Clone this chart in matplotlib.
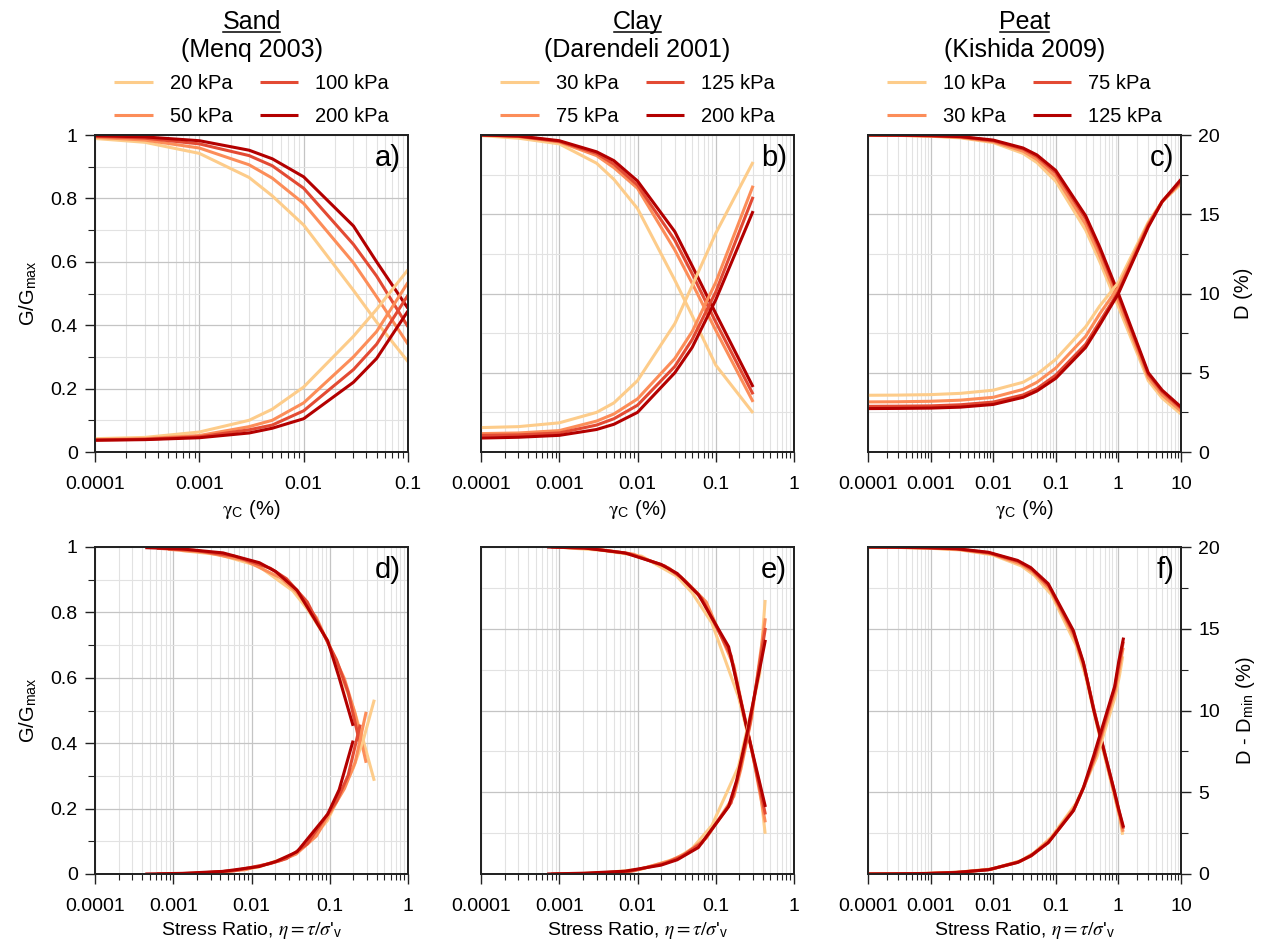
import numpy as np
import matplotlib
matplotlib.use('Agg')
import matplotlib.pyplot as plt
from matplotlib.ticker import LogLocator, MultipleLocator, NullFormatter, FuncFormatter, NullLocator
from matplotlib.lines import Line2D

plt.rcParams['font.family'] = ['Liberation Sans', 'DejaVu Sans']
plt.rcParams['mathtext.fontset'] = 'stix'

colors = ['#fdcc8a', '#fc8d59', '#e34a33', '#b30000']

# ---------------- Sand (Menq 2003) ----------------
sand_labels = ['20 kPa', '50 kPa', '100 kPa', '200 kPa']
sand_strain = [1e-4, 3e-4, 1e-3, 3e-3, 5e-3, 1e-2, 3e-2, 5e-2, 0.1]
sand_G = [
    [0.989, 0.977, 0.942, 0.866, 0.808, 0.716, 0.510, 0.410, 0.285],
    [0.993, 0.984, 0.959, 0.906, 0.864, 0.784, 0.597, 0.490, 0.340],
    [0.996, 0.990, 0.972, 0.935, 0.903, 0.832, 0.655, 0.555, 0.395],
    [0.998, 0.994, 0.982, 0.952, 0.925, 0.868, 0.713, 0.600, 0.453],
]
sand_D = [
    [0.84, 0.92, 1.26, 2.00, 2.70, 4.10, 7.30, 9.00, 11.50],
    [0.78, 0.84, 1.04, 1.60, 2.00, 3.10, 6.00, 7.60, 10.70],
    [0.76, 0.80, 0.96, 1.40, 1.70, 2.60, 5.20, 6.80, 9.90],
    [0.74, 0.78, 0.90, 1.20, 1.50, 2.10, 4.40, 5.90, 8.90],
]
sand_eta = [
    [1.29e-3, 3.81e-3, 1.225e-2, 3.38e-2, 5.25e-2, 9.31e-2, 0.199, 0.267, 0.371],
    [8.54e-4, 2.54e-3, 8.25e-3, 2.34e-2, 3.72e-2, 6.74e-2, 0.154, 0.211, 0.292],
    [6.18e-4, 1.84e-3, 6.03e-3, 1.74e-2, 2.80e-2, 5.16e-2, 0.122, 0.172, 0.245],
    [4.39e-4, 1.31e-3, 4.32e-3, 1.26e-2, 2.04e-2, 3.82e-2, 9.41e-2, 0.132, 0.199],
]
sand_Dnorm = [
    [0.00, 0.08, 0.42, 1.16, 1.86, 3.26, 6.46, 8.16, 10.66],
    [0.00, 0.06, 0.26, 0.82, 1.22, 2.32, 5.22, 6.82, 9.92],
    [0.00, 0.04, 0.20, 0.64, 0.94, 1.84, 4.44, 6.04, 9.14],
    [0.00, 0.04, 0.16, 0.46, 0.76, 1.36, 3.66, 5.16, 8.16],
]

# ---------------- Clay (Darendeli 2001) ----------------
clay_labels = ['30 kPa', '75 kPa', '125 kPa', '200 kPa']
clay_strain = [1e-4, 3e-4, 1e-3, 3e-3, 5e-3, 1e-2, 3e-2, 5e-2, 0.1, 0.3]
clay_G = [
    [0.998, 0.990, 0.972, 0.911, 0.860, 0.768, 0.542, 0.430, 0.274, 0.123],
    [1.000, 0.995, 0.978, 0.935, 0.897, 0.832, 0.637, 0.532, 0.384, 0.158],
    [1.000, 0.996, 0.980, 0.942, 0.908, 0.842, 0.668, 0.562, 0.410, 0.182],
    [1.000, 0.997, 0.982, 0.947, 0.919, 0.855, 0.695, 0.587, 0.437, 0.205],
]
clay_D = [
    [1.54, 1.60, 1.84, 2.50, 3.10, 4.50, 8.10, 10.50, 13.80, 18.30],
    [1.16, 1.20, 1.35, 1.95, 2.40, 3.35, 5.90, 7.60, 10.70, 16.80],
    [1.05, 1.08, 1.20, 1.70, 2.10, 2.95, 5.40, 7.10, 10.10, 16.10],
    [0.88, 0.93, 1.05, 1.42, 1.75, 2.50, 5.00, 6.60, 9.60, 15.20],
]
clay_eta = [
    [1.16e-3, 3.45e-3, 1.13e-2, 3.17e-2, 4.99e-2, 8.91e-2, 0.195, 0.255, 0.365, 0.428],
    [9.07e-4, 2.71e-3, 8.87e-3, 2.54e-2, 4.07e-2, 7.55e-2, 0.170, 0.210, 0.287, 0.430],
    [7.90e-4, 2.36e-3, 7.74e-3, 2.23e-2, 3.59e-2, 6.65e-2, 0.157, 0.195, 0.270, 0.431],
    [7.00e-4, 2.09e-3, 6.87e-3, 1.99e-2, 3.22e-2, 5.99e-2, 0.146, 0.185, 0.254, 0.431],
]
clay_Dnorm = [
    [0.00, 0.06, 0.30, 0.96, 1.56, 2.96, 6.56, 8.96, 12.26, 16.76],
    [0.00, 0.04, 0.19, 0.79, 1.24, 2.19, 4.74, 6.44, 9.54, 15.64],
    [0.00, 0.03, 0.15, 0.65, 1.05, 1.90, 4.35, 6.05, 9.05, 15.05],
    [0.00, 0.05, 0.17, 0.54, 0.87, 1.62, 4.12, 5.72, 8.72, 14.32],
]

# ---------------- Peat (Kishida 2009) ----------------
peat_labels = ['10 kPa', '30 kPa', '75 kPa', '125 kPa']
peat_strain = [1e-4, 3e-4, 1e-3, 3e-3, 1e-2, 3e-2, 5e-2, 0.1, 0.3, 0.5, 1, 3, 5, 10]
peat_G = [
    [0.9995, 0.9987, 0.996, 0.991, 0.976, 0.942, 0.913, 0.854, 0.700, 0.602, 0.458, 0.225, 0.170, 0.120],
    [0.9997, 0.9989, 0.9968, 0.9926, 0.979, 0.949, 0.923, 0.868, 0.718, 0.620, 0.475, 0.235, 0.180, 0.129],
    [0.9999, 0.9991, 0.9976, 0.9942, 0.982, 0.956, 0.932, 0.881, 0.736, 0.639, 0.492, 0.245, 0.190, 0.138],
    [1.0000, 0.9993, 0.998, 0.995, 0.984, 0.959, 0.937, 0.888, 0.745, 0.648, 0.500, 0.250, 0.195, 0.142],
]
peat_D = [
    [3.58, 3.59, 3.62, 3.70, 3.90, 4.40, 4.90, 5.85, 7.90, 9.20, 10.7, 14.5, 15.8, 16.9],
    [3.16, 3.17, 3.20, 3.27, 3.45, 3.95, 4.40, 5.30, 7.30, 8.70, 10.4, 14.4, 15.8, 17.0],
    [2.88, 2.89, 2.91, 2.98, 3.15, 3.60, 4.00, 4.85, 6.80, 8.20, 10.1, 14.3, 15.8, 17.1],
    [2.74, 2.75, 2.77, 2.83, 3.00, 3.45, 3.85, 4.65, 6.60, 8.00, 10.0, 14.2, 15.8, 17.2],
]
peat_eta = [
    [1.0e-4, 3.0e-4, 9.96e-4, 2.97e-3, 9.76e-3, 2.83e-2, 4.57e-2, 8.54e-2, 0.210, 0.301, 0.450, 0.900, 1.050, 1.170],
    [9.5e-5, 2.85e-4, 9.47e-4, 2.83e-3, 9.30e-3, 2.70e-2, 4.38e-2, 8.24e-2, 0.205, 0.295, 0.435, 0.890, 1.040, 1.190],
    [8.8e-5, 2.64e-4, 8.78e-4, 2.63e-3, 8.65e-3, 2.52e-2, 4.10e-2, 7.76e-2, 0.194, 0.281, 0.420, 0.880, 1.030, 1.200],
    [8.5e-5, 2.55e-4, 8.48e-4, 2.54e-3, 8.36e-3, 2.45e-2, 3.98e-2, 7.55e-2, 0.190, 0.275, 0.405, 0.870, 1.020, 1.210],
]
peat_Dnorm = [
    [0.00, 0.01, 0.04, 0.12, 0.32, 0.82, 1.32, 2.27, 4.32, 5.62, 7.12, 10.92, 12.22, 13.32],
    [0.00, 0.01, 0.04, 0.11, 0.29, 0.79, 1.24, 2.14, 4.14, 5.54, 7.24, 11.24, 12.64, 13.84],
    [0.00, 0.01, 0.03, 0.10, 0.27, 0.72, 1.12, 1.97, 3.92, 5.32, 7.22, 11.42, 12.92, 14.22],
    [0.00, 0.01, 0.03, 0.09, 0.26, 0.71, 1.11, 1.91, 3.86, 5.26, 7.26, 11.46, 13.06, 14.46],
]

titles = ['Sand', 'Clay', 'Peat']
refs = ['(Menq 2003)', '(Darendeli 2001)', '(Kishida 2009)']
top_xmax = [0.1, 1, 10]
bot_xmax = [1, 1, 10]
letters_top = ['a)', 'b)', 'c)']
letters_bot = ['d)', 'e)', 'f)']

W, H = 1262, 944
fig = plt.figure(figsize=(W / 100, H / 100), dpi=100)

lefts_px = [95, 481, 868]
width_px = 313
rows_px = [(135, 452), (547, 874)]

LW = 2.2
FS = 14
spine_color = '#222222'


def make_axes(col, row):
    top, bot = rows_px[row]
    rect = [lefts_px[col] / W, 1 - bot / H, width_px / W, (bot - top) / H]
    ax = fig.add_axes(rect)
    ax2 = ax.twinx()
    return ax, ax2


def style(ax, ax2, xmax, col, letter):
    ax.set_xscale('log')
    ax.set_xlim(1e-4, xmax)
    ax.set_ylim(0, 1)
    ax2.set_ylim(0, 20)
    ax.xaxis.set_major_locator(LogLocator(base=10, numticks=20))
    ax.xaxis.set_minor_locator(LogLocator(base=10, subs=np.arange(2, 10), numticks=20))
    ax.xaxis.set_minor_formatter(NullFormatter())
    ax.xaxis.set_major_formatter(FuncFormatter(lambda v, p: f'{v:g}'))
    ax.tick_params(axis='x', which='major', length=7, width=1.0, labelsize=FS, pad=10,
                   color=spine_color)
    ax.tick_params(axis='x', which='minor', length=4.5, width=0.8, color=spine_color)
    if col == 0:
        ax.yaxis.set_major_locator(MultipleLocator(0.2))
        ax.yaxis.set_minor_locator(MultipleLocator(0.1))
        ax.yaxis.set_major_formatter(FuncFormatter(lambda v, p: f'{v:g}'))
        ax.tick_params(axis='y', which='major', length=7, width=1.0, labelsize=FS, pad=5.5,
                       color=spine_color)
        ax.tick_params(axis='y', which='minor', length=5, width=0.8, color=spine_color)
    else:
        ax.yaxis.set_major_locator(MultipleLocator(0.25))
        ax.yaxis.set_minor_locator(MultipleLocator(0.125))
        ax.tick_params(axis='y', which='both', length=0, labelleft=False)
    ax.grid(which='major', color='#c4c4c4', lw=0.9)
    ax.grid(which='minor', color='#e2e2e2', lw=0.8)
    ax.set_axisbelow(True)
    if col == 2:
        ax2.yaxis.set_major_locator(MultipleLocator(5))
        ax2.yaxis.set_minor_locator(MultipleLocator(2.5))
        ax2.tick_params(axis='y', which='major', length=7, width=1.0, labelsize=FS, pad=5.5,
                        color=spine_color)
        ax2.tick_params(axis='y', which='minor', length=5, width=0.8, color=spine_color)
    else:
        ax2.yaxis.set_major_locator(NullLocator())
        ax2.yaxis.set_minor_locator(NullLocator())
    for a in (ax, ax2):
        for s in a.spines.values():
            s.set_color(spine_color)
            s.set_linewidth(1.3)
    ax2.text(0.978, 0.972, letter, transform=ax2.transAxes, ha='right', va='top',
             fontsize=21)


data = [
    (sand_labels, sand_strain, sand_G, sand_D, sand_eta, sand_Dnorm),
    (clay_labels, clay_strain, clay_G, clay_D, clay_eta, clay_Dnorm),
    (peat_labels, peat_strain, peat_G, peat_D, peat_eta, peat_Dnorm),
]

xlabel_bot = r"Stress Ratio, $\eta = \tau/\sigma$'$_{\mathregular{v}}$"

title_texts = []
for col, (labels, strain, G, D, eta, Dn) in enumerate(data):
    # top row
    ax, ax2 = make_axes(col, 0)
    handles = []
    for i in range(4):
        h, = ax.plot(strain, G[i], color=colors[i], lw=LW, solid_capstyle='butt')
        handles.append(h)
        ax2.plot(strain, D[i], color=colors[i], lw=LW, solid_capstyle='butt')
    style(ax, ax2, top_xmax[col], col, letters_top[col])
    ax.set_xlabel(r'$\mathrm{\gamma}_{\mathregular{C}}$ (%)', fontsize=14.5, labelpad=4)
    if col == 0:
        ax.set_ylabel(r'G/G$_{\mathregular{max}}$', fontsize=14.5, labelpad=8)
    if col == 2:
        ax2.set_ylabel('D (%)', fontsize=14.5, labelpad=10)
    ax.legend(handles, labels, ncol=2, loc='center', bbox_to_anchor=(0.5, 1.11),
              frameon=False, fontsize=14.5, handlelength=1.9, handletextpad=0.85,
              columnspacing=1.35, labelspacing=0.7)
    t = ax.text(0.5, 1.356, titles[col], transform=ax.transAxes, ha='center',
                va='center', fontsize=18)
    title_texts.append(t)
    ax.text(0.5, 1.268, refs[col], transform=ax.transAxes, ha='center',
            va='center', fontsize=18)

    # bottom row
    bx, bx2 = make_axes(col, 1)
    for i in range(4):
        bx.plot(eta[i], G[i], color=colors[i], lw=LW, solid_capstyle='butt')
        bx2.plot(eta[i], Dn[i], color=colors[i], lw=LW, solid_capstyle='butt')
    style(bx, bx2, bot_xmax[col], col, letters_bot[col])
    bx.set_xlabel(xlabel_bot, fontsize=14, labelpad=4)
    if col == 0:
        bx.set_ylabel(r'G/G$_{\mathregular{max}}$', fontsize=14.5, labelpad=8)
    if col == 2:
        bx2.set_ylabel(r'D - D$_{\mathregular{min}}$ (%)', fontsize=14.5, labelpad=10)

# underline titles
fig.canvas.draw()
renderer = fig.canvas.get_renderer()
inv = fig.transFigure.inverted()
for t in title_texts:
    bb = t.get_window_extent(renderer)
    y = bb.y0 + 2.5
    (x0, yy0) = inv.transform((bb.x0 + 1, y))
    (x1, yy1) = inv.transform((bb.x1 - 1, y))
    fig.add_artist(Line2D([x0, x1], [yy0, yy1], transform=fig.transFigure,
                          color='black', lw=1.1))

fig.savefig('out.png', dpi=100)
